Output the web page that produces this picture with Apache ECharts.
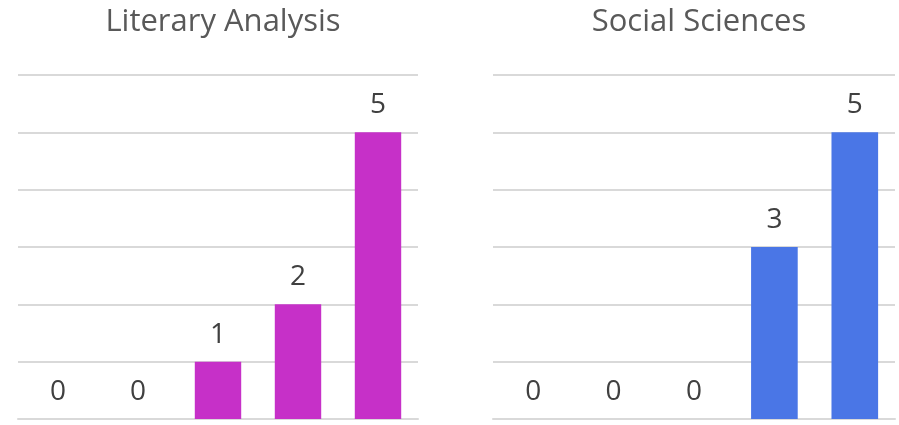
<!DOCTYPE html>
<html>
<head>
<meta charset="utf-8">
<script src="https://cdn.jsdelivr.net/npm/echarts@6/dist/echarts.min.js"></script>
<style>
  html, body { margin: 0; padding: 0; background: #ffffff; }
  #chart { width: 899px; height: 425px; }
</style>
</head>
<body>
<div id="chart"></div>
<script>
const categories = ['A', 'B', 'C', 'D', 'E'];
const panelTitles = ['Literary Analysis', 'Social Sciences'];
const literaryValues = [0, 0, 1, 2, 5];
const socialValues = [0, 0, 0, 3, 5];
const barColors = ['#C630C8', '#4A76E6'];

const FONT = '"Open Sans", "Noto Sans", sans-serif';
const gridColor = '#D9D9D9';

const grids = [
  { left: 18, width: 400, top: 75, height: 344 },
  { left: 493, width: 402, top: 75, height: 344 }
];

const chart = echarts.init(document.getElementById('chart'), null, { renderer: 'canvas' });

const option = {
  backgroundColor: '#ffffff',
  animation: false,
  title: panelTitles.map((t, i) => ({
    text: t,
    left: grids[i].left + grids[i].width / 2,
    textAlign: 'center',
    top: 2,
    textStyle: { fontFamily: FONT, fontSize: 31, fontWeight: 'normal', color: '#595959' }
  })),
  grid: grids.map(g => ({ ...g, containLabel: false })),
  xAxis: grids.map((g, i) => ({
    type: 'category',
    gridIndex: i,
    data: categories,
    axisLine: { show: true, lineStyle: { color: gridColor, width: 2 } },
    axisTick: { show: false },
    axisLabel: { show: false }
  })),
  yAxis: grids.map((g, i) => ({
    type: 'value',
    gridIndex: i,
    min: 0,
    max: 6,
    interval: 1,
    axisLine: { show: false },
    axisTick: { show: false },
    axisLabel: { show: false },
    splitLine: { show: true, lineStyle: { color: gridColor, width: 2 } }
  })),
  series: [literaryValues, socialValues].map((vals, i) => ({
    type: 'bar',
    xAxisIndex: i,
    yAxisIndex: i,
    data: vals,
    barWidth: '58%',
    itemStyle: { color: barColors[i] },
    label: {
      show: true,
      position: 'top',
      distance: 13,
      fontFamily: FONT,
      fontSize: 28,
      color: '#404040'
    }
  }))
};

chart.setOption(option);
</script>
</body>
</html>
